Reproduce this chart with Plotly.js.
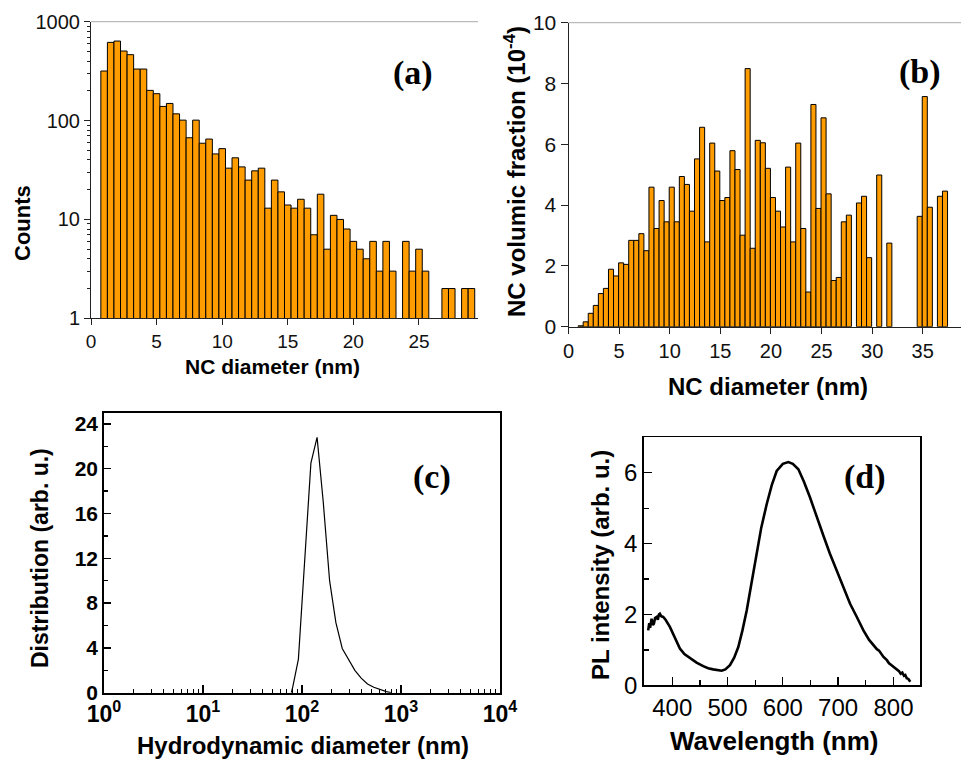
<!DOCTYPE html>
<html>
<head>
<meta charset="utf-8">
<script src="https://cdn.plot.ly/plotly-3.0.1.min.js"></script>
<style>html,body{margin:0;padding:0;background:#fff;}#chart{width:962px;height:760px;}</style>
</head>
<body>
<div id="chart"></div>
<script>
// ---- Panel (a): NC size histogram (counts, log scale) ----
const aDiameter = [1,1.5,2,2.5,3,3.5,4,4.5,5,5.5,6,6.5,7,7.5,8,8.5,9,9.5,10,10.5,11,11.5,12,12.5,13,13.5,14,14.5,15,15.5,16,16.5,17,17.5,18,18.5,19,19.5,20,20.5,21,21.5,22,22.5,23,23.5,24,24.5,25,25.5,26,26.5,27,27.5,28,28.5,29];
const aCounts = [317,618,637,505,464,332,332,202,187,139,149,117,101,67,101,59,65,46,52,33,42,34,25,31,33,13,25,19,14,13,16,13,7,18,5,11,10,8,6,5,4,6,3,6,3,null,6,3,5,3,null,null,2,2,null,2,2];
const aXTicks = [0,5,10,15,20,25];
const aYTicks = [1,10,100,1000];
const aYTickText = ['1','10','100','1000'];

// ---- Panel (b): NC volumic fraction ----
const bDiameter = [1.2,1.7,2.2,2.7,3.2,3.7,4.2,4.7,5.2,5.7,6.2,6.7,7.2,7.7,8.2,8.7,9.2,9.7,10.2,10.7,11.2,11.7,12.2,12.7,13.2,13.7,14.2,14.7,15.2,15.7,16.2,16.7,17.2,17.7,18.2,18.7,19.2,19.7,20.2,20.7,21.2,21.7,22.2,22.7,23.2,23.7,24.2,24.7,25.2,25.7,26.2,26.7,27.2,27.7,28.2,28.7,29.2,29.7,30.2,30.7,31.2,31.7,32.2,32.7,33.2,33.7,34.2,34.7,35.2,35.7,36.2,36.7,37.2];
const bFraction = [0.03,0.16,0.44,0.70,1.09,1.26,1.89,1.67,2.10,2.05,2.84,2.84,3.06,2.50,4.59,3.23,4.15,3.45,4.59,3.45,4.94,4.68,3.80,5.52,6.56,2.79,6.04,5.12,4.15,4.25,5.79,5.17,3.01,8.49,2.58,6.13,6.05,5.21,4.25,3.80,3.28,5.25,2.79,6.04,3.23,1.14,7.31,3.89,6.87,4.37,1.52,1.62,3.45,3.67,null,4.07,4.29,2.27,null,4.99,null,2.75,null,null,null,null,null,3.63,7.57,3.93,null,4.29,4.46];
const bXTicks = [0,5,10,15,20,25,30,35];
const bYTicks = [0,2,4,6,8,10];

// ---- Panel (c): DLS hydrodynamic diameter distribution ----
const cDiameter = [78,80.6,92,106,123,142,164,190,220,255,295,342,396,459,531,615,712,790];
const cDistribution = [0,0.5,3.0,11.3,20.5,22.8,17.0,10.0,6.25,3.95,3.0,2.0,1.3,0.78,0.48,0.27,0.09,0];
const cXTicks = [1,10,100,1000,10000];
const cXTickText = ['10<sup>0</sup>','10<sup>1</sup>','10<sup>2</sup>','10<sup>3</sup>','10<sup>4</sup>'];
const cXMinor = [2,3,4,5,6,7,8,9,20,30,40,50,60,70,80,90,200,300,400,500,600,700,800,900,2000,3000,4000,5000,6000,7000,8000,9000];
const cYTicks = [0,4,8,12,16,20,24];
const cYMinor = [2,6,10,14,18,22];

// ---- Panel (d): PL spectrum ----
const dWavelength = [356.6,358.5,360,362.7,365,366.9,369,371.8,374,376,377.7,380,383.7,388,395.8,405,413.9,422,432,444,456.1,465,474.2,482,489.4,496,504.4,512,519.5,527,534.7,543,552.7,561,570.8,580,588.9,600,610,618,628.1,638,649.2,661,673.4,685,697.5,709,721.6,734,745.7,756,766.9,770,774,778,782,788.1,792,796,800,804,806.2,810,813,816,819,821.4,824,827,830.4];
const dIntensity = [1.55,1.75,1.62,1.88,1.70,1.74,1.90,1.93,1.85,2.00,2.02,1.95,1.93,1.85,1.65,1.35,1.04,0.88,0.76,0.64,0.54,0.48,0.45,0.42,0.41,0.45,0.57,0.78,1.08,1.55,2.11,2.85,3.71,4.45,5.11,5.65,6.05,6.25,6.30,6.25,6.10,5.75,5.30,4.75,4.22,3.72,3.24,2.78,2.30,1.92,1.55,1.28,1.08,1.02,0.98,0.88,0.80,0.71,0.62,0.57,0.52,0.47,0.43,0.40,0.33,0.36,0.27,0.29,0.20,0.18,0.10];
const dXTicks = [400,500,600,700,800];
const dXMinor = [350,450,550,650,750,850];
const dYTicks = [0,2,4,6];
const dYMinor = [1,3,5];

// ---- layout helpers ----
const W = 962, H = 760;
const px = v => v / W;
const py = v => 1 - v / H;
const SANS = 'Liberation Sans, Arial, sans-serif';
const SERIF = 'Liberation Serif, Times New Roman, serif';
const ORANGE = '#ff9c00';

const traces = [
  {type:'bar', x:aDiameter, y:aCounts, width:0.5, xaxis:'x', yaxis:'y',
   marker:{color:ORANGE, line:{color:'#000', width:1}}, hoverinfo:'x+y'},
  {type:'bar', x:bDiameter, y:bFraction, width:0.5, xaxis:'x2', yaxis:'y2',
   marker:{color:ORANGE, line:{color:'#000', width:1}}, hoverinfo:'x+y'},
  {type:'scatter', mode:'lines', x:cDiameter, y:cDistribution, xaxis:'x3', yaxis:'y3',
   line:{color:'#000', width:1.2}},
  {type:'scatter', mode:'lines', x:dWavelength, y:dIntensity, xaxis:'x4', yaxis:'y4',
   line:{color:'#000', width:2.6}}
];

const baseAx = {showgrid:false, zeroline:false, showline:true, linecolor:'#222', linewidth:1,
  tickcolor:'#222', tickfont:{family:SANS, size:19, color:'#111'}, fixedrange:true};

const layout = {
  width:W, height:H, margin:{l:0,r:0,t:0,b:0}, paper_bgcolor:'#fff', plot_bgcolor:'rgba(0,0,0,0)',
  showlegend:false, bargap:0,
  // (a)
  xaxis: Object.assign({}, baseAx, {domain:[px(91),px(478)], range:[0,29.5], anchor:'y',
    tickmode:'array', tickvals:aXTicks, ticks:'outside', ticklen:6}),
  yaxis: Object.assign({}, baseAx, {domain:[py(318.3),py(21.7)], type:'log', range:[0,3], anchor:'x',
    tickmode:'array', tickvals:aYTicks, ticktext:aYTickText, ticks:'outside', ticklen:6,
    tickfont:{family:SANS, size:20, color:'#111'},
    minor:{tickmode:'array', tickvals:[2,3,4,5,6,7,8,9,20,30,40,50,60,70,80,90,200,300,400,500,600,700,800,900], ticks:'outside', ticklen:3, tickcolor:'#222'}}),
  // (b)
  xaxis2: Object.assign({}, baseAx, {domain:[px(568.5),px(961)], range:[0,38.78], anchor:'y2',
    tickmode:'array', tickvals:bXTicks, ticks:'outside', ticklen:6, tickfont:{family:SANS, size:20, color:'#111'}}),
  yaxis2: Object.assign({}, baseAx, {domain:[py(326.7),py(22.7)], range:[0,10], anchor:'x2',
    tickmode:'array', tickvals:bYTicks, ticks:'outside', ticklen:7, tickfont:{family:SANS, size:21, color:'#111'}}),
  // (c)
  xaxis3: Object.assign({}, baseAx, {domain:[px(104),px(500)], type:'log', range:[0,4], anchor:'y3',
    linecolor:'#000', linewidth:1.8, mirror:true, tickcolor:'#000',
    tickmode:'array', tickvals:cXTicks, ticktext:cXTickText, ticks:'inside', ticklen:8, tickwidth:1.3,
    tickfont:{family:SANS, size:23, color:'#000', weight:'bold'},
    minor:{tickmode:'array', tickvals:cXMinor, ticks:'inside', ticklen:4, tickcolor:'#000', tickwidth:1}}),
  yaxis3: Object.assign({}, baseAx, {domain:[py(692.7),py(412.7)], range:[0,25], anchor:'x3',
    linecolor:'#000', linewidth:1.8, mirror:true, tickcolor:'#000',
    tickmode:'array', tickvals:cYTicks, ticks:'inside', ticklen:7, tickwidth:1.3,
    tickfont:{family:SANS, size:21, color:'#000', weight:'bold'},
    minor:{tickmode:'array', tickvals:cYMinor, ticks:'inside', ticklen:4, tickcolor:'#000'}}),
  // (d)
  xaxis4: Object.assign({}, baseAx, {domain:[px(644),px(920)], range:[349,848], anchor:'y4',
    linecolor:'#000', linewidth:1.8, mirror:true, tickcolor:'#000',
    tickmode:'array', tickvals:dXTicks, ticks:'inside', ticklen:8, tickwidth:1.3,
    tickfont:{family:SANS, size:24, color:'#000'},
    minor:{tickmode:'array', tickvals:dXMinor, ticks:'inside', ticklen:5, tickcolor:'#000'}}),
  yaxis4: Object.assign({}, baseAx, {domain:[py(685.3),py(437.3)], range:[0,7], anchor:'x4',
    linecolor:'#000', linewidth:1.8, mirror:true, tickcolor:'#000',
    tickmode:'array', tickvals:dYTicks, ticks:'inside', ticklen:8, tickwidth:1.3,
    tickfont:{family:SANS, size:24, color:'#000'},
    minor:{tickmode:'array', tickvals:dYMinor, ticks:'inside', ticklen:5, tickcolor:'#000'}}),
  shapes: [
    {type:'line', xref:'x domain', yref:'y domain', x0:0, x1:1, y0:1, y1:1, line:{color:'#aaa', width:1}},
    {type:'line', xref:'x2 domain', yref:'y2 domain', x0:0, x1:1, y0:1, y1:1, line:{color:'#aaa', width:1}}
  ],
  annotations: [
    // axis titles
    {text:'<b>Counts</b>', x:px(22), y:py(223), textangle:-90, font:{family:SANS, size:22, color:'#000'}},
    {text:'<b>NC diameter (nm)</b>', x:px(272), y:py(366), font:{family:SANS, size:21, color:'#000'}},
    {text:'<b>NC volumic fraction (10<sup>-4</sup>)</b>', x:px(515), y:py(172), textangle:-90, font:{family:SANS, size:24, color:'#000'}},
    {text:'<b>NC diameter (nm)</b>', x:px(768), y:py(386), font:{family:SANS, size:24, color:'#000'}},
    {text:'<b>Distribution (arb. u.)</b>', x:px(40), y:py(558), textangle:-90, font:{family:SANS, size:23, color:'#000'}},
    {text:'<b>Hydrodynamic diameter (nm)</b>', x:px(303), y:py(745), font:{family:SANS, size:24, color:'#000'}},
    {text:'<b>PL intensity (arb. u.)</b>', x:px(600), y:py(565), textangle:-90, font:{family:SANS, size:24, color:'#000'}},
    {text:'<b>Wavelength (nm)</b>', x:px(774), y:py(741), font:{family:SANS, size:26, color:'#000'}},
    // panel labels
    {text:'<b>(a)</b>', x:px(413), y:py(73), font:{family:SERIF, size:34, color:'#000'}},
    {text:'<b>(b)</b>', x:px(920), y:py(72), font:{family:SERIF, size:34, color:'#000'}},
    {text:'<b>(c)</b>', x:px(432), y:py(477), font:{family:SERIF, size:34, color:'#000'}},
    {text:'<b>(d)</b>', x:px(865), y:py(477), font:{family:SERIF, size:34, color:'#000'}}
  ].map(a => Object.assign({xref:'paper', yref:'paper', showarrow:false, xanchor:'center', yanchor:'middle'}, a))
};

Plotly.newPlot('chart', traces, layout, {displayModeBar:false, staticPlot:true});
</script>
</body>
</html>
